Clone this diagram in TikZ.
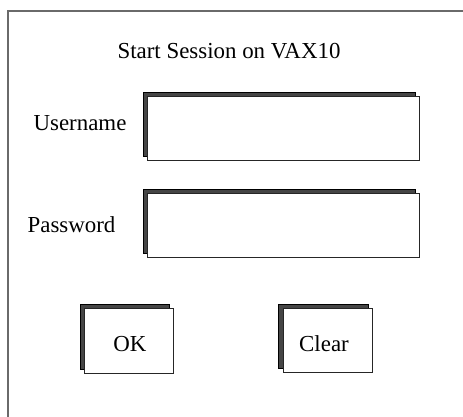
\documentclass[tikz,border=0pt]{standalone}
\usepackage{fontspec}
\setmainfont{Liberation Serif}
\definecolor{shadowgray}{HTML}{454545}
\definecolor{framegray}{HTML}{6A6A6A}
\begin{document}
\begin{tikzpicture}[x=1pt,y=-1pt,
  shadowbox/.style={draw=black,line width=0.9pt,fill=shadowgray},
  frontbox/.style={draw=black!85,line width=0.9pt,fill=white},
  lbl/.style={inner sep=0pt,anchor=base,font=\fontsize{22.9}{27}\selectfont}]
\useasboundingbox (0,0) rectangle (463,417);
% outer frame (open at right/bottom)
\coordinate (fbl) at (8,420);
\coordinate (ftl) at (8,11);
\coordinate (ftr) at (466,11);
\draw[framegray,line width=1.4pt] (fbl) -- (ftl) -- (ftr);
% title
\node[lbl] (title) at (229,59) {Start Session on VAX10};
% username field
\draw[shadowbox] (143,92) rectangle (415,156);
\draw[frontbox] (147,96) rectangle (419,160);
\node[lbl] (user) at (80,131) {Username};
% password field
\draw[shadowbox] (143,189) rectangle (415,253);
\draw[frontbox] (147,193) rectangle (419,257);
\node[lbl] (pass) at (71.5,232) {Password};
% OK button
\draw[shadowbox] (80,304) rectangle (169,369);
\draw[frontbox] (84,308) rectangle (173,373);
\node[lbl] (ok) at (130,351) {OK};
% Clear button
\draw[shadowbox] (278,304) rectangle (368,368);
\draw[frontbox] (283,308) rectangle (372,372);
\node[lbl] (clear) at (324,351) {Clear};
\end{tikzpicture}
\end{document}
